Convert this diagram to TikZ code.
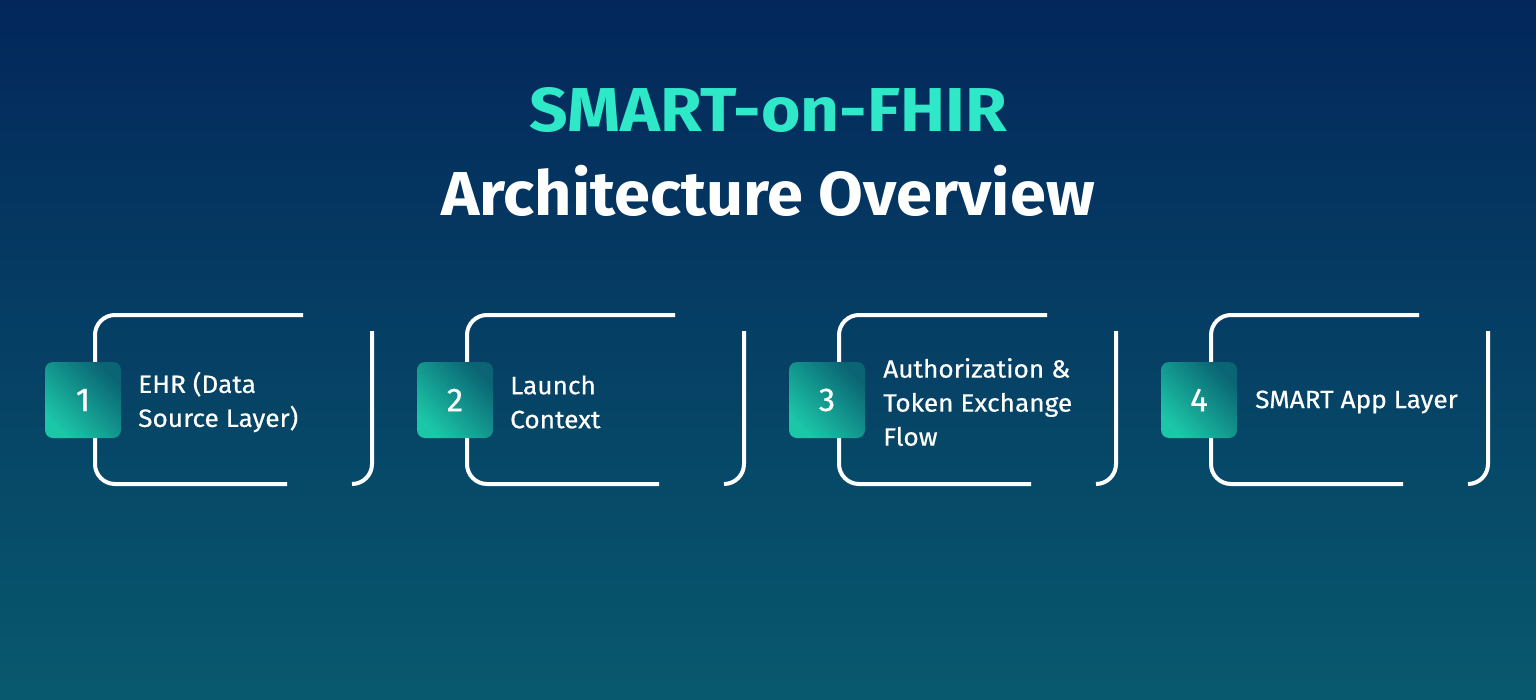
\documentclass[tikz,border=0pt]{standalone}
\usepackage{fontspec}
\setmainfont{Fira Sans}
\newfontfamily\medfont[FakeBold=0.5]{Fira Sans}
\definecolor{bgTop}{RGB}{3,39,91}
\definecolor{bgBot}{RGB}{8,89,110}
\definecolor{titleCyan}{RGB}{46,232,200}
\definecolor{tealA}{RGB}{28,199,168}
\definecolor{tealB}{RGB}{10,100,115}
\begin{document}
\begin{tikzpicture}[x=1pt,y=-1pt,
  brk/.style={draw=white,line width=4pt,rounded corners=20pt},
  numbox/.style={minimum width=76pt,minimum height=76pt,rounded corners=8pt,
    left color=tealA,right color=tealB,shading angle=135,text=white,
    font=\medfont\fontsize{33}{33}\selectfont,inner sep=0pt},
  lbl/.style={anchor=west,align=left,text=white,font=\medfont\fontsize{25}{34}\selectfont,inner sep=0pt,xscale=1.05,transform shape},
  ttl/.style={anchor=base,inner sep=0pt,font=\bfseries\fontsize{62}{62}\selectfont,transform shape}]
\useasboundingbox (0,0) rectangle (1536,699);
\shade[top color=bgTop,bottom color=bgBot] (0,0) rectangle (1536,699);

\node[ttl,text=titleCyan,xscale=1.09] (title1) at (768,131) {SMART-on-FHIR};
\node[ttl,text=white,xscale=1.047] (title2) at (768,215) {Architecture Overview};

\foreach \i in {0,1,2,3}{
  \begin{scope}[xshift=372*\i]
    \draw[brk] (303,315) -- (95,315) -- (95,484) -- (287,484);
    \draw[brk] (372,331) -- (372,484) -- (352,484);
  \end{scope}
}

\node[numbox] (n1) at (83,400) {1};
\node[numbox] (n2) at (455,400) {2};
\node[numbox] (n3) at (827,400) {3};
\node[numbox] (n4) at (1199,400) {4};

\node[lbl] (t1) at (138,402) {EHR (Data\\Source Layer)};
\node[lbl] (t2) at (510,402) {Launch\\Context};
\node[lbl] (t3) at (883,402) {Authorization \&\\Token Exchange\\Flow};
\node[lbl] (t4) at (1255,402) {SMART App Layer};
\end{tikzpicture}
\end{document}
